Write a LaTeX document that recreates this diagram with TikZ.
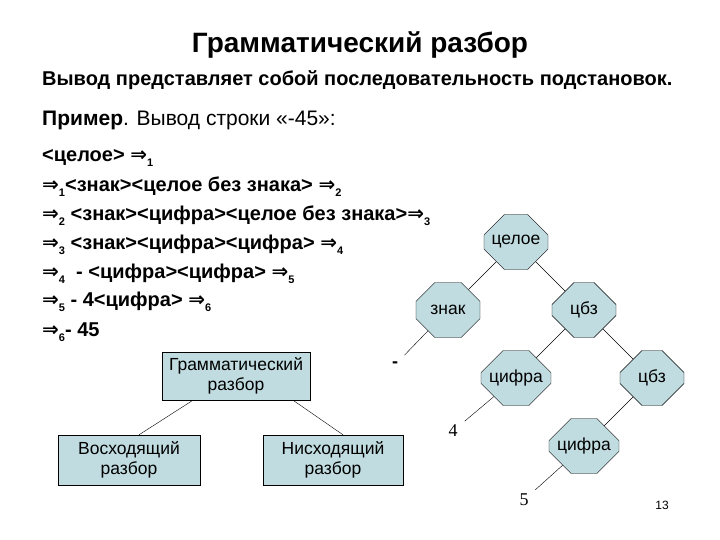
\documentclass[tikz,border=0pt]{standalone}
\usepackage{fontspec}
\setmainfont{Liberation Sans}
\newfontfamily\arrowfont{DejaVu Sans}
\newfontfamily\numfont{Liberation Serif}
\usepackage{tikz}
\usetikzlibrary{shapes.misc}
\definecolor{nodefill}{RGB}{192,220,224}
\newcommand{\der}[1]{{\arrowfont ⇒}\raisebox{-0.45ex}{\fontsize{11}{11}\selectfont #1}}
\tikzset{
  treenode/.style = {align=center, inner sep=0pt, text centered,
    draw=black, fill=nodefill, font=\fontsize{17.5}{19}\selectfont},
  octnode/.style = {treenode, chamfered rectangle,
    chamfered rectangle xsep=16pt, chamfered rectangle ysep=14pt,
    minimum width=64pt, minimum height=55pt},
  boxnode/.style = {treenode, rectangle, minimum width=144pt,
    minimum height=49pt, font=\fontsize{17.5}{20}\selectfont},
  leaf/.style = {circle, inner sep=0pt, minimum size=30pt,
    font=\numfont\fontsize{18}{20}\selectfont},
  dline/.style = {anchor=west, inner sep=0pt,
    font=\bfseries\fontsize{20}{22}\selectfont}
}
\begin{document}
\begin{tikzpicture}[x=1pt,y=-1pt]
  \useasboundingbox (0,0) rectangle (720,540);
  % headings
  \node[font=\bfseries\fontsize{28}{30}\selectfont] (title) at (360,45) {Грамматический разбор};
  \node[dline] (intro) at (42,80) {Вывод представляет собой последовательность подстановок.};
  \node[dline, font=\fontsize{21}{23}\selectfont] (example) at (42,120) {\textbf{Пример}. Вывод строки «-45»:};
  % derivation
  \node[dline] (d1) at (42,158) {<целое> \der{1}};
  \node[dline] (d2) at (42,187) {\der{1}<знак><целое без знака> \der{2}};
  \node[dline] (d3) at (42,216) {\der{2} <знак><цифра><целое без знака>\der{3}};
  \node[dline] (d4) at (42,245) {\der{3} <знак><цифра><цифра> \der{4}};
  \node[dline] (d5) at (42,274) {\der{4}\ \ - <цифра><цифра> \der{5}};
  \node[dline] (d6) at (42,302) {\der{5} - 4<цифра> \der{6}};
  \node[dline] (d7) at (42,332) {\der{6}- 45};
  % parse tree
  \node[octnode] (whole) at (516,242) {целое};
  \node[octnode] (sign) at (448,310) {знак};
  \node[octnode] (cbz) at (584,310) {цбз};
  \node[octnode] (digit) at (516,378) {цифра};
  \node[octnode] (cbzz) at (652,378) {цбз};
  \node[octnode] (digitt) at (584,446) {цифра};
  \node[leaf, font=\bfseries\fontsize{18}{20}\selectfont, minimum size=27pt] (minus) at (395,365) {-};
  \node[leaf] (four) at (453,431) {4};
  \node[leaf] (five) at (524,500) {5};
  \draw (whole) -- (sign);
  \draw (whole) -- (cbz);
  \draw (sign) -- (minus);
  \draw (cbz) -- (digit);
  \draw (cbz) -- (cbzz);
  \draw (digit) -- (four);
  \draw (cbzz) -- (digitt);
  \draw (digitt) -- (five);
  % kinds of parsing
  \node[boxnode, minimum width=148pt, minimum height=48pt] (gram) at (236,376) {Грамматический\\разбор};
  \node[boxnode, minimum width=142pt, minimum height=50pt] (up) at (129,460) {Восходящий\\разбор};
  \node[boxnode, minimum width=140pt, minimum height=50pt] (down) at (333,460) {Нисходящий\\разбор};
  \draw ([xshift=-43pt]gram.south) -- ([xshift=10pt]up.north);
  \draw ([xshift=57pt]gram.south) -- ([xshift=10pt]down.north);
  \node[font=\fontsize{12}{14}\selectfont] (page) at (662,505) {13};
\end{tikzpicture}
\end{document}
